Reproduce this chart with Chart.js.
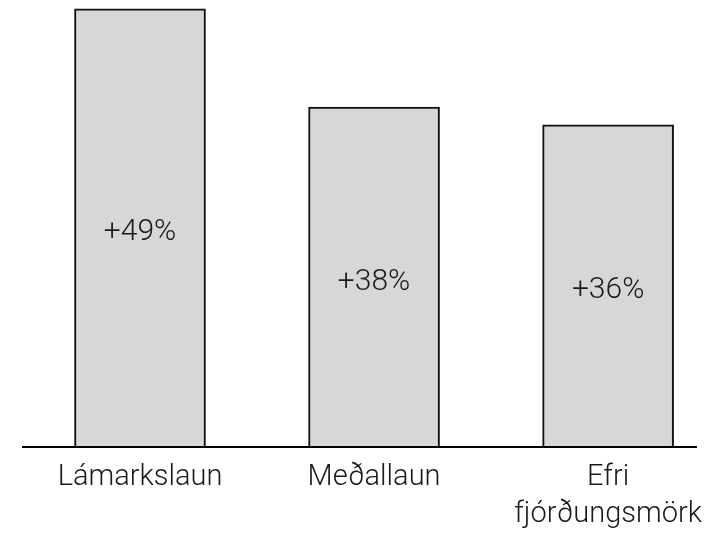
<!DOCTYPE html>
<html>
<head>
<meta charset="utf-8">
<script src="https://cdn.jsdelivr.net/npm/chart.js@4"></script>
<style>
    html, body { margin: 0; padding: 0; background: #fff; }
    #wrap { width: 716px; height: 537px; }
</style>
</head>
<body>
<div id="wrap"><canvas id="barChart"></canvas></div>
<script>
const categories = ['Lámarkslaun', 'Meðallaun', ['Efri', 'fjórðungsmörk']];
const increases = [49, 38, 36];
const valueLabels = ['+49%', '+38%', '+36%'];

// labels centred inside each bar + the long baseline under the bars
const barLabels = {
    id: 'barLabels',
    afterDatasetsDraw(chart) {
        const ctx = chart.ctx;
        const meta = chart.getDatasetMeta(0);
        ctx.save();
        ctx.font = '300 30px Roboto';
        ctx.fillStyle = '#1a1a1a';
        ctx.textAlign = 'center';
        ctx.textBaseline = 'alphabetic';
        meta.data.forEach((bar, i) => {
            const mid = (bar.y + bar.base) / 2;
            ctx.fillText(valueLabels[i], bar.x, mid + 13);
        });
        const y = chart.chartArea.bottom + 1;
        ctx.strokeStyle = '#000';
        ctx.lineWidth = 2;
        ctx.beginPath();
        ctx.moveTo(22, y);
        ctx.lineTo(697, y);
        ctx.stroke();
        ctx.restore();
    }
};

const ctxBar = document.getElementById('barChart').getContext('2d');
const barChart = new Chart(ctxBar, {
    type: 'bar',
    data: {
        labels: categories,
        datasets: [{
            data: increases,
            backgroundColor: '#d6d7d9',
            borderColor: '#111',
            borderWidth: 2,
            borderSkipped: 'bottom',
            barThickness: 131,
            clip: false
        }]
    },
    options: {
        responsive: true,
        maintainAspectRatio: false,
        animation: false,
        layout: { padding: { left: 140, right: 104, top: 0, bottom: 0 } },
        plugins: {
            legend: { display: false },
            tooltip: { enabled: false }
        },
        scales: {
            x: {
                offset: false,
                grid: { display: false, drawTicks: false },
                border: { display: false },
                afterFit(scale) { scale.height = 91; },
                ticks: {
                    padding: 14,
                    color: '#1a1a1a',
                    font: { family: 'Roboto', weight: '300', size: 29, lineHeight: 1.25 },
                    maxRotation: 0,
                    autoSkip: false
                }
            },
            y: {
                display: false,
                min: 0,
                max: 50
            }
        }
    },
    plugins: [barLabels]
});
</script>
</body>
</html>
